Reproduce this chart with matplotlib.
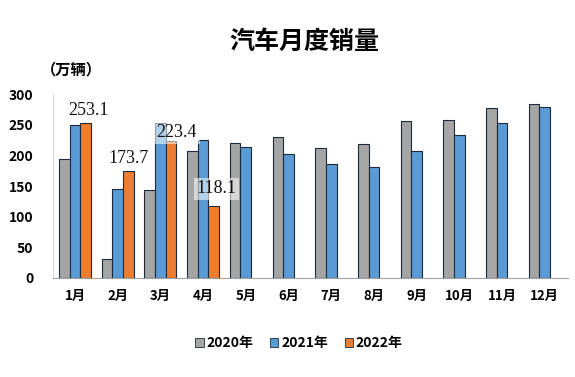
import numpy as np
import matplotlib
matplotlib.use('Agg')
from matplotlib import pyplot as plt
from matplotlib.patches import Patch

plt.rcParams['font.family'] = ['Noto Sans CJK SC', 'DejaVu Sans']

months = ['1月', '2月', '3月', '4月', '5月', '6月', '7月', '8月', '9月', '10月', '11月', '12月']
sales_2020 = [194.0, 31.0, 143.0, 207.0, 219.4, 230.1, 211.2, 218.6, 256.5, 257.3, 276.6, 283.1]
sales_2021 = [250.3, 145.5, 252.6, 225.2, 212.8, 201.5, 186.4, 180.9, 207.1, 233.1, 252.2, 278.6]
sales_2022 = [253.1, 173.7, 223.4, 118.1]
labels_2022 = ['253.1', '173.7', '223.4', '118.1']
series_names = ['2020年', '2021年', '2022年']

colors = ['#a5a5a5', '#5b9bd5', '#ed7d31']
edge = '#1e2a3a'

fig = plt.figure(figsize=(5.75, 3.77), dpi=100)
ax = fig.add_axes([0.092, 0.2626, 0.896, 0.488])

x = np.arange(len(months))
w = 0.25
ax.bar(x - w, sales_2020, w, color=colors[0], edgecolor=edge, linewidth=0.8)
ax.bar(x, sales_2021, w, color=colors[1], edgecolor=edge, linewidth=0.8)
x22 = np.arange(len(sales_2022))
ax.bar(x22 + w, sales_2022, w, color=colors[2], edgecolor=edge, linewidth=0.8)

# data labels for 2022
offsets = [(2, 3), (0, 3), (4, 0), (2, 6)]
for i in range(len(sales_2022)):
    bbox = None
    if i >= 2:
        bbox = dict(boxstyle='square,pad=0.15', fc='white', ec='none', alpha=0.55)
    ax.annotate(labels_2022[i], (x22[i] + w, sales_2022[i]), xytext=offsets[i],
                textcoords='offset points', ha='center', va='bottom',
                fontsize=13, family='Liberation Serif', color='#111111', bbox=bbox)

ax.set_xlim(-0.52, 11.55)
ax.set_ylim(0, 300)
ax.set_yticks(np.arange(0, 301, 50))
ax.set_xticks(x)
ax.set_xticklabels(months, fontsize=9.5, fontweight='bold')
ax.tick_params(axis='y', length=0, pad=14, labelsize=10)
ax.tick_params(axis='x', length=0, pad=8)
for lab in ax.get_yticklabels():
    lab.set_fontweight('bold')

for s in ['top', 'right']:
    ax.spines[s].set_visible(False)
ax.spines['left'].set_color('#d9d9d9')
ax.spines['bottom'].set_color('#a0a0a0')

fig.text(0.53, 0.89, '汽车月度销量', ha='center', va='center', fontsize=18, fontweight='bold')
fig.text(0.124, 0.815, '（万辆）', ha='center', va='center', fontsize=11, fontweight='bold')

handles = [Patch(facecolor=c, edgecolor=edge, linewidth=0.6) for c in colors]
fig.legend(handles, series_names, loc='center', bbox_to_anchor=(0.52, 0.09), ncol=3,
           frameon=False, handlelength=0.6, handleheight=0.6,
           handletextpad=0.2, columnspacing=1.2, prop={'weight': 'bold', 'size': 10})

fig.savefig('out.png', dpi=100)
